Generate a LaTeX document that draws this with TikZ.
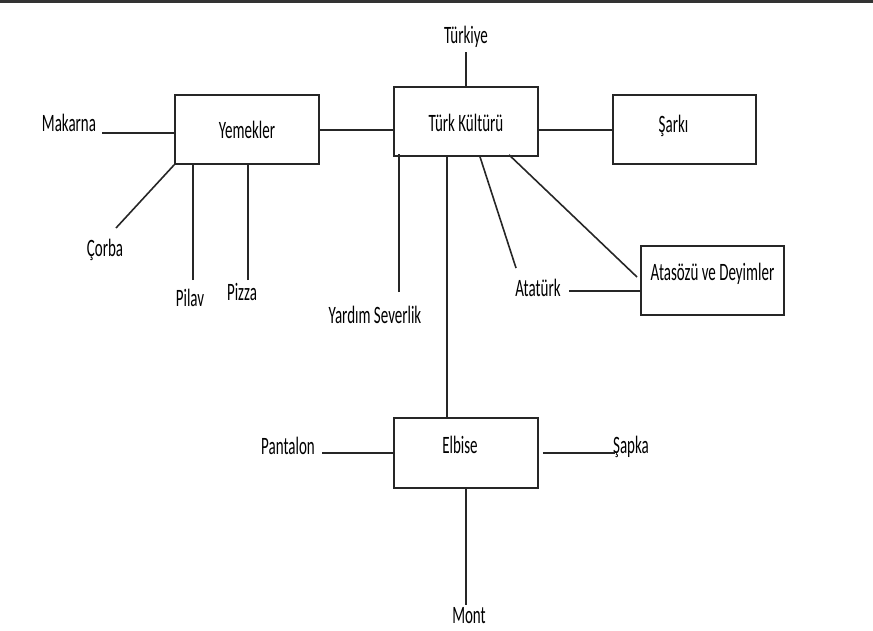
\documentclass[tikz,border=0pt]{standalone}
\usepackage{fontspec}
\setmainfont[FakeStretch=0.6]{Carlito}
\begin{document}
\begin{tikzpicture}[x=1pt,y=-1pt,
  box/.style={draw=black!85, line width=1.6pt, minimum width=144pt, minimum height=69pt, inner sep=0pt},
  lbl/.style={inner sep=0pt, font=\fontsize{25}{29}\selectfont},
  conn/.style={draw=black!85, line width=1.6pt}]
\useasboundingbox (0,0) rectangle (873,630);
\draw[line width=3pt, black!80] (0,1) -- (873,1);
% boxes
\node[box, label={[lbl]center:Yemekler}] (yem) at (247,129.5) {};
\node[box, label={[lbl,yshift=-1pt]center:Türk Kültürü}] (tk) at (466,121.5) {};
\node[box, minimum width=143pt, label={[lbl,xshift=-11pt,yshift=4pt]center:Şarkı}] (sk) at (684.5,129.5) {};
\node[box, minimum width=143pt, label={[lbl,yshift=7pt]center:Atasözü ve Deyimler}] (ad) at (712.5,280.5) {};
\node[box, minimum height=70pt, label={[lbl,xshift=-6pt,yshift=8pt]center:Elbise}] (elb) at (466,453) {};
% labels
\node[lbl] (mak) at (69,123) {Makarna};
\node[lbl] (cor) at (105,250) {Çorba};
\node[lbl] (pil) at (190,298) {Pilav};
\node[lbl] (piz) at (242,292) {Pizza};
\node[lbl] (tur) at (466,37) {Türkiye};
\node[lbl] (yar) at (375,315) {Yardım Severlik};
\node[lbl] (ata) at (538,288) {Atatürk};
\node[lbl] (pan) at (288,446) {Pantalon};
\node[lbl] (sap) at (631,447) {Şapka};
\node[lbl] (mon) at (469,616) {Mont};
% free ends
\coordinate (mk) at (102,133);
\coordinate (cb) at (116,228);
\coordinate (pl) at (193,280);
\coordinate (pz) at (248,280);
\coordinate (tt) at (466,52);
\coordinate (ys) at (399,292);
\coordinate (at1) at (516,268);
\coordinate (ad1) at (637,277);
\coordinate (at2) at (569,291);
\coordinate (pn) at (322,453);
\coordinate (sp) at (615,453);
\coordinate (mn) at (466,605);
% connectors
\draw[conn] (mk) -- (yem.west |- mk);
\draw[conn] (yem.south west) -- (cb);
\draw[conn] (pl) -- (pl |- yem.south);
\draw[conn] (pz) -- (pz |- yem.south);
\draw[conn] ([yshift=-0.5pt]yem.east) -- ([yshift=-0.5pt]tk.west |- yem.east);
\draw[conn] (tt) -- (tk.north);
\draw[conn] (ys) -- ([yshift=3pt]ys |- tk.south);
\draw[conn] ([xshift=-19pt]tk.south) -- ([xshift=-19pt]elb.north);
\draw[conn] ([yshift=-0.5pt]tk.east |- sk.west) -- ([yshift=-0.5pt]sk.west);
\draw[conn] ([xshift=14pt]tk.south) -- (at1);
\draw[conn] ([xshift=43pt,yshift=2pt]tk.south) -- (ad1);
\draw[conn] (at2) -- (ad.west |- at2);
\draw[conn] (pn) -- (elb.west |- pn);
\draw[conn] ([xshift=4pt]elb.east) -- (sp);
\draw[conn] (elb.south) -- (mn);
\end{tikzpicture}
\end{document}
